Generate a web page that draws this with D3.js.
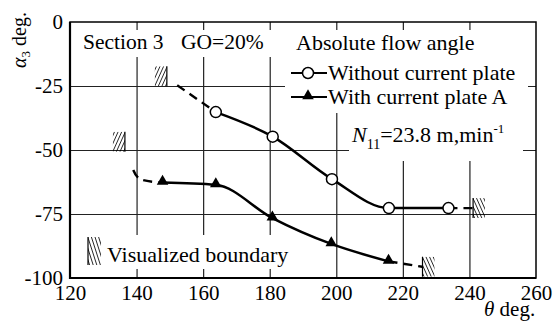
<!DOCTYPE html>
<html>
<head>
<meta charset="utf-8">
<script src="https://cdn.jsdelivr.net/npm/d3@7"></script>
<style>
  html, body { margin: 0; padding: 0; background: #fff; }
  svg { display: block; }
  svg text { font-family: "Liberation Serif", "Times New Roman", serif; }
</style>
</head>
<body>
<svg id="chart" width="553" height="322"></svg>
<script>
// Absolute flow angle at section 3 versus circumferential position
const xTicks = [120, 140, 160, 180, 200, 220, 240, 260];
const yTicks = [0, -25, -50, -75, -100];

// Without current plate (open circles)
const thetaOpen = [163.8, 180.9, 198.7, 215.8, 233.7];
const alphaOpen = [-35.2, -44.8, -61.4, -72.7, -72.7];
// extrapolated ends toward the visualized boundary
const openLeadTheta = [152.2];
const openLeadAlpha = [-24.7];
const openTailTheta = [241.0];
const openTailAlpha = [-72.7];

// With current plate A (filled triangles)
const thetaFilled = [147.8, 163.8, 180.8, 198.5, 215.7];
const alphaFilled = [-62.7, -63.6, -76.6, -86.7, -93.5];
const filledLeadTheta = [139.0, 140.8];
const filledLeadAlpha = [-57.8, -61.2];
const filledTailTheta = [225.8];
const filledTailAlpha = [-95.6];

// Visualized boundaries (wall position and centre)
const boundaryTheta = [149.1, 136.5, 241.1, 225.9];
const boundaryAlpha = [-21.2, -46.8, -72.7, -95.6];
const boundarySide = ["left", "left", "right", "right"];

const svg = d3.select("#chart");
const L = 70, R = 536, T = 22, B = 278;
const x = d3.scaleLinear().domain([120, 260]).range([L, R]);
const y = d3.scaleLinear().domain([0, -100]).range([T, B]);
const serif = "Liberation Serif";

// grid
svg.append("g")
  .attr("transform", `translate(0,${B})`)
  .call(d3.axisBottom(x).tickValues(xTicks.slice(1, -1)).tickSize(-(B - T)).tickFormat(""))
  .call(g => g.select(".domain").remove())
  .call(g => g.selectAll("line").attr("stroke", "#222").attr("stroke-width", 1.2));
svg.append("g")
  .attr("transform", `translate(${L},0)`)
  .call(d3.axisLeft(y).tickValues(yTicks.slice(1, -1)).tickSize(-(R - L)).tickFormat(""))
  .call(g => g.select(".domain").remove())
  .call(g => g.selectAll("line").attr("stroke", "#222").attr("stroke-width", 1.2));

// white backing behind the annotation blocks
const boxes = [
  [76, 30, 276, 57],
  [285, 30, 528, 113],
  [349, 113, 523, 161],
  [84, 235, 293, 269]
];
svg.append("g").selectAll("rect").data(boxes).join("rect")
  .attr("x", d => d[0]).attr("y", d => d[1])
  .attr("width", d => d[2] - d[0]).attr("height", d => d[3] - d[1])
  .attr("fill", "#fff");

// frame
svg.append("rect").attr("x", L).attr("y", T).attr("width", R - L).attr("height", B - T)
  .attr("fill", "none").attr("stroke", "#000").attr("stroke-width", 1.5);
svg.append("path").attr("d", `M${L},${T}V${B}H${R}`)
  .attr("fill", "none").attr("stroke", "#000").attr("stroke-width", 2.2);

// tick labels
svg.append("g")
  .attr("transform", `translate(0,${B})`)
  .call(d3.axisBottom(x).tickValues(xTicks).tickSize(0).tickPadding(7).tickFormat(d => String(d)))
  .attr("font-family", serif).attr("font-size", 21)
  .call(g => g.select(".domain").remove())
  .call(g => g.selectAll("text").attr("fill", "#000"));
svg.append("g")
  .attr("transform", `translate(${L},0)`)
  .call(d3.axisLeft(y).tickValues(yTicks).tickSize(0).tickPadding(7).tickFormat(d => String(d)))
  .attr("font-family", serif).attr("font-size", 21)
  .call(g => g.select(".domain").remove())
  .call(g => g.selectAll("text").attr("fill", "#000"));

// axis titles
const yt = svg.append("text")
  .attr("transform", "translate(26,68) rotate(-90)")
  .attr("font-size", 20).attr("fill", "#000");
yt.append("tspan").attr("font-style", "italic").text("α");
yt.append("tspan").attr("font-size", 13).attr("dy", 4).text("3");
yt.append("tspan").attr("dy", -4).text(" deg.");

const xt = svg.append("text").attr("x", 484).attr("y", 316).attr("font-size", 21).attr("fill", "#000");
xt.append("tspan").attr("font-style", "italic").text("θ");
xt.append("tspan").text(" deg.");

// curves
const line = d3.line().x(d => x(d[0])).y(d => y(d[1])).curve(d3.curveMonotoneX);
const zip = (a, b) => a.map((v, i) => [v, b[i]]);

const openPts = zip(thetaOpen, alphaOpen);
const filledPts = zip(thetaFilled, alphaFilled);

const dashed = [
  zip(openLeadTheta, openLeadAlpha).concat([openPts[0]]),
  [openPts[openPts.length - 1]].concat(zip(openTailTheta, openTailAlpha)),
  zip(filledLeadTheta, filledLeadAlpha).concat([filledPts[0]]),
  [filledPts[filledPts.length - 1]].concat(zip(filledTailTheta, filledTailAlpha))
];
svg.append("g").selectAll("path").data(dashed).join("path")
  .attr("d", d => d3.line().x(p => x(p[0])).y(p => y(p[1])).curve(d3.curveCatmullRom)(d))
  .attr("fill", "none").attr("stroke", "#000").attr("stroke-width", 2.4)
  .attr("stroke-dasharray", "9,6");

svg.append("path").attr("d", line(openPts))
  .attr("fill", "none").attr("stroke", "#000").attr("stroke-width", 2.5);
svg.append("path").attr("d", line(filledPts))
  .attr("fill", "none").attr("stroke", "#000").attr("stroke-width", 2.5);

// markers
svg.append("g").selectAll("circle").data(openPts).join("circle")
  .attr("cx", d => x(d[0])).attr("cy", d => y(d[1])).attr("r", 5.5)
  .attr("fill", "#fff").attr("stroke", "#000").attr("stroke-width", 1.5);
const tri = d3.symbol().type(d3.symbolTriangle).size(58);
svg.append("g").selectAll("path").data(filledPts).join("path")
  .attr("transform", d => `translate(${x(d[0])},${y(d[1]) - 1})`)
  .attr("d", tri()).attr("fill", "#000");

// hatched boundary marks
let clipId = 0;
function hatch(g, wx, cy, w, h, side) {
  const x0 = side === "left" ? wx - w : wx;
  const y0 = cy - h / 2;
  const id = "hclip" + (clipId++);
  g.append("clipPath").attr("id", id)
    .append("rect").attr("x", x0).attr("y", y0).attr("width", w).attr("height", h);
  const hg = g.append("g").attr("clip-path", `url(#${id})`);
  const slant = 9, step = 3.6;
  for (let k = -slant - 2; k < w + 2; k += step) {
    const xa = x0 + k;
    if (side === "left") {
      hg.append("line").attr("x1", xa).attr("y1", y0 + h).attr("x2", xa + slant).attr("y2", y0);
    } else {
      hg.append("line").attr("x1", xa).attr("y1", y0).attr("x2", xa + slant).attr("y2", y0 + h);
    }
  }
  hg.selectAll("line").attr("stroke", "#000").attr("stroke-width", 0.85);
  g.append("line").attr("x1", wx).attr("x2", wx).attr("y1", y0).attr("y2", y0 + h)
    .attr("stroke", "#000").attr("stroke-width", 1.2);
}
const hatches = svg.append("g");
boundaryTheta.forEach((t, i) => {
  hatch(hatches, x(t), y(boundaryAlpha[i]), 12, 20, boundarySide[i]);
});

// annotations
const txt = (xx, yy, s, size) => svg.append("text").attr("x", xx).attr("y", yy)
  .attr("font-size", size || 21.5).attr("fill", "#000").text(s);
txt(83, 49, "Section 3");
txt(181, 49, "GO=20%");
txt(296, 50, "Absolute flow angle", 22);
txt(328, 80, "Without current plate", 22);
txt(328, 104, "With current plate A", 22);

// legend keys
svg.append("line").attr("x1", 291).attr("x2", 327).attr("y1", 73).attr("y2", 73)
  .attr("stroke", "#000").attr("stroke-width", 2);
svg.append("circle").attr("cx", 308).attr("cy", 73).attr("r", 5.5)
  .attr("fill", "#fff").attr("stroke", "#000").attr("stroke-width", 1.5);
svg.append("line").attr("x1", 291).attr("x2", 327).attr("y1", 97).attr("y2", 97)
  .attr("stroke", "#000").attr("stroke-width", 2);
svg.append("path").attr("transform", "translate(308,96)").attr("d", tri()).attr("fill", "#000");

// rotational speed
const nt = svg.append("text").attr("x", 352).attr("y", 142).attr("font-size", 22).attr("fill", "#000");
nt.append("tspan").attr("font-style", "italic").text("N");
nt.append("tspan").attr("font-size", 14).attr("dy", 7).text("11");
nt.append("tspan").attr("dy", -7).text("=23.8 m,min");
nt.append("tspan").attr("font-size", 13).attr("dy", -9).text("-1");

// boundary key
hatch(svg.append("g"), 88, 251, 13, 28, "right");
txt(107, 262, "Visualized boundary", 22);
</script>
</body>
</html>
